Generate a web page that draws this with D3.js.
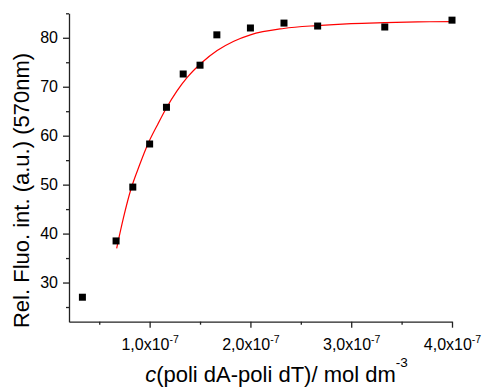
<!DOCTYPE html>
<html>
<head>
<meta charset="utf-8">
<script src="https://cdn.jsdelivr.net/npm/d3@7"></script>
<style>
  html, body { margin: 0; padding: 0; background: #fff; }
  svg { display: block; }
  text { font-family: "Liberation Sans", Arial, sans-serif; fill: #000; }
</style>
</head>
<body>
<script>
// Concentration in units of 1e-7 mol dm^-3
const concX = [0.333, 0.667, 0.833, 1.0, 1.167, 1.333, 1.5, 1.667, 2.0, 2.333, 2.667, 3.333, 4.0];
const fluoY = [27.0, 38.5, 49.5, 58.3, 65.8, 72.6, 74.4, 80.6, 82.0, 83.0, 82.4, 82.2, 83.6];

// Fit curve
const fitX = [0.673, 0.74, 0.812, 0.9, 0.983, 1.08, 1.165, 1.27, 1.373, 1.522, 1.67, 1.835, 2.0, 2.33, 2.66, 3.0, 3.33, 3.66, 4.0];
const fitY = [37.0, 43.2, 48.9, 54.0, 58.3, 62.3, 65.6, 69.1, 71.9, 75.0, 77.4, 79.3, 80.6, 81.9, 82.5, 82.9, 83.1, 83.25, 83.3];

const xMajorTicks = [1, 2, 3, 4];
const xMinorTicks = [0.5, 1.5, 2.5, 3.5];
const xTickLabels = ["1,0x10", "2,0x10", "3,0x10", "4,0x10"];
const xTickExp = "-7";
const yMajorTicks = [30, 40, 50, 60, 70, 80];
const yMinorTicks = [25, 35, 45, 55, 65, 75, 85];

const W = 483, H = 387;
const svg = d3.select("body").append("svg").attr("width", W).attr("height", H);

const x = d3.scaleLinear().domain([0.2, 4.0]).range([69, 452]);
const y = d3.scaleLinear().domain([22, 85]).range([321.7, 13.3]);

const axisColor = "#222";

// X axis
const gx = svg.append("g").attr("transform", `translate(0,${y.range()[0]})`);
gx.call(d3.axisBottom(x).tickValues(xMajorTicks).tickSize(6).tickSizeOuter(0).tickFormat(""));
gx.append("g").call(d3.axisBottom(x).tickValues(xMinorTicks).tickSize(3).tickSizeOuter(0).tickFormat(""))
  .select(".domain").remove();
gx.selectAll("path, line").attr("stroke", axisColor).attr("stroke-width", 1.3);

const xl = svg.append("g");
xMajorTicks.forEach((v, i) => {
  const t = xl.append("text")
    .attr("x", x(v) + 0.5)
    .attr("y", 350)
    .attr("text-anchor", "middle")
    .attr("font-size", 16);
  t.append("tspan").text(xTickLabels[i]);
  t.append("tspan").attr("font-size", 10.5).attr("dy", -7).text(xTickExp);
});

// Y axis
const gy = svg.append("g").attr("transform", `translate(${x.range()[0]},0)`);
gy.call(d3.axisLeft(y).tickValues(yMajorTicks).tickSize(6).tickSizeOuter(0).tickPadding(5).tickFormat(d3.format("d")));
gy.append("g").call(d3.axisLeft(y).tickValues(yMinorTicks).tickSize(3).tickSizeOuter(0).tickFormat(""))
  .select(".domain").remove();
gy.selectAll("path, line").attr("stroke", axisColor).attr("stroke-width", 1.3);
gy.selectAll("text").attr("font-size", 16).attr("font-family", '"Liberation Sans", Arial, sans-serif').attr("fill", "#000");

// Fit curve
const line = d3.line().x((d, i) => x(fitX[i])).y((d, i) => y(fitY[i])).curve(d3.curveMonotoneX);
svg.append("path")
  .datum(fitX)
  .attr("d", line)
  .attr("fill", "none")
  .attr("stroke", "#ff0000")
  .attr("stroke-width", 1.2);

// Data points
const sz = 7;
svg.append("g").selectAll("rect")
  .data(concX)
  .join("rect")
  .attr("x", (d) => x(d) - sz / 2)
  .attr("y", (d, i) => y(fluoY[i]) - sz / 2)
  .attr("width", sz)
  .attr("height", sz)
  .attr("fill", "#000");

// Y title
svg.append("text")
  .attr("transform", "translate(29,190.5) rotate(-90)")
  .attr("text-anchor", "middle")
  .attr("font-size", 22)
  .text("Rel. Fluo. int. (a.u.) (570nm)");

// X title
const xt = svg.append("text")
  .attr("x", 276.5)
  .attr("y", 381.5)
  .attr("text-anchor", "middle")
  .attr("font-size", 22);
xt.append("tspan").attr("font-style", "italic").text("c");
xt.append("tspan").text("(poli dA-poli dT)/ mol dm");
xt.append("tspan").attr("font-size", 13.5).attr("dy", -15).text("-3");
</script>
</body>
</html>
